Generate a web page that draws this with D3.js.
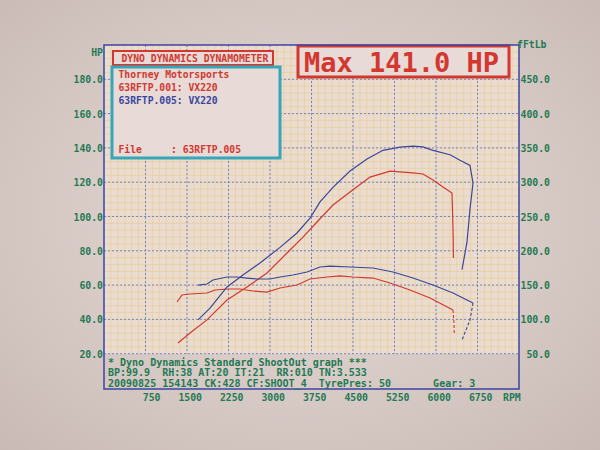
<!DOCTYPE html>
<html>
<head>
<meta charset="utf-8">
<script src="https://cdn.jsdelivr.net/npm/d3@7"></script>
<style>
  body { margin: 0; background: #d8cac6; }
  svg { display: block; }
  text { font-family: "DejaVu Sans Mono", monospace; font-weight: bold; }
</style>
</head>
<body>
<svg width="600" height="450"></svg>
<script>
// run 63RFTP.001 (red) and 63RFTP.005 (blue)
var redPowerRpm = [1337, 1554, 1861, 2223, 2584, 2946, 3307, 3596, 3849, 4138, 4446, 4807, 5169, 5404, 5584, 5765, 5946, 6126, 6289, 6300, 6310, 6315];
var redPowerHp = [26.2, 32.1, 39.7, 51.3, 58.9, 67.1, 78.7, 88.0, 96.8, 106.7, 114.3, 123.0, 126.5, 125.9, 125.4, 124.8, 121.3, 117.2, 113.7, 102.0, 88.0, 75.8];
var redTorqueRpm = [1319, 1410, 1554, 1861, 2006, 2223, 2458, 2693, 2946, 3181, 3488, 3723, 4030, 4265, 4500, 4861, 5169, 5530, 5892, 6307, 6325, 6330];
var redTorqueFtlb = [125.4, 135.6, 137.0, 138.5, 142.9, 144.3, 144.3, 141.4, 139.9, 145.8, 150.1, 158.9, 161.8, 163.3, 161.8, 160.3, 153.1, 142.9, 131.2, 113.7, 94.8, 77.3];
var bluePowerRpm = [1699, 1916, 2223, 2512, 2819, 3181, 3488, 3723, 3904, 4138, 4446, 4753, 5042, 5349, 5584, 5765, 5946, 6253, 6434, 6614, 6669, 6614, 6560, 6470];
var bluePowerHp = [39.7, 46.6, 58.9, 65.9, 72.9, 82.0, 90.4, 99.1, 108.5, 117.0, 126.5, 133.5, 138.6, 140.5, 141.0, 140.6, 138.6, 136.0, 132.8, 129.8, 119.5, 104.3, 85.0, 69.0];
var blueTorqueRpm = [1699, 1861, 1970, 2223, 2404, 2584, 2765, 3000, 3181, 3416, 3669, 3904, 4084, 4446, 4861, 5223, 5584, 5946, 6307, 6669, 6614, 6470];
var blueTorqueFtlb = [150.1, 151.6, 157.4, 161.8, 161.8, 160.3, 158.9, 158.9, 161.8, 164.7, 169.1, 176.4, 177.8, 176.4, 174.9, 169.1, 160.3, 150.1, 138.5, 123.9, 99.1, 70.0];

var rpmTicks = [750, 1500, 2250, 3000, 3750, 4500, 5250, 6000, 6750];
var hpTicks = [20, 40, 60, 80, 100, 120, 140, 160, 180];
var ftlbTicks = [50, 100, 150, 200, 250, 300, 350, 400, 450];

var titleText = "DYNO DYNAMICS DYNAMOMETER";
var maxText = "Max 141.0 HP";
var runLines = ["Thorney Motorsports", "63RFTP.001: VX220", "63RFTP.005: VX220"];
var fileLine = "File     : 63RFTP.005";
var infoLines = [
    "* Dyno Dynamics Standard ShootOut graph ***",
    "BP:99.9  RH:38 AT:20 IT:21  RR:010 TN:3.533",
    "20090825 154143 CK:428 CF:SHOOT_4  TyrePres: 50       Gear: 3"
];

var red = "#d2382f", blue = "#3a469e", green = "#1f7a55", teal = "#36a6b8";

var svg = d3.select("svg");

var x = d3.scaleLinear().domain([0, 7500]).range([104, 519]);
var y = d3.scaleLinear().domain([0, 200]).range([388, 45]);
var yT = d3.scaleLinear().domain([0, 500]).range([388, 45]);

// paper under the camera
var grad = svg.append("defs").append("radialGradient")
    .attr("id", "paper").attr("cx", "50%").attr("cy", "48%").attr("r", "72%");
grad.append("stop").attr("offset", "0%").attr("stop-color", "#e8dcd8");
grad.append("stop").attr("offset", "100%").attr("stop-color", "#c9bab5");
svg.append("rect").attr("width", 600).attr("height", 450).attr("fill", "url(#paper)");

// grid area
svg.append("rect")
    .attr("x", x(0)).attr("y", y(200))
    .attr("width", x(7500) - x(0)).attr("height", y(20) - y(200))
    .attr("fill", "#ebdcd2");

var minor = svg.append("g").attr("stroke", "#e6c776").attr("stroke-width", 0.6).attr("opacity", 0.75);
minor.selectAll("line.v").data(d3.range(125, 7500, 125)).enter().append("line")
    .attr("x1", function(d) { return x(d); }).attr("x2", function(d) { return x(d); })
    .attr("y1", y(200)).attr("y2", y(20));
minor.selectAll("line.h").data(d3.range(24, 200, 4)).enter().append("line")
    .attr("x1", x(0)).attr("x2", x(7500))
    .attr("y1", function(d) { return y(d); }).attr("y2", function(d) { return y(d); });

var major = svg.append("g").attr("stroke", "#7488c4").attr("stroke-width", 1).attr("stroke-dasharray", "2,2");
major.selectAll("line.v").data(rpmTicks).enter().append("line")
    .attr("x1", function(d) { return x(d); }).attr("x2", function(d) { return x(d); })
    .attr("y1", y(200)).attr("y2", y(20));
major.selectAll("line.h").data(hpTicks).enter().append("line")
    .attr("x1", x(0)).attr("x2", x(7500))
    .attr("y1", function(d) { return y(d); }).attr("y2", function(d) { return y(d); });

// curves
var line = d3.line()
    .x(function(d) { return x(d[0]); })
    .y(function(d) { return d[1]; });

function pts(rpm, vals, scale) {
    return rpm.map(function(r, i) { return [r, scale(vals[i])]; });
}

function curve(p, color, tail) {
    var n = p.length;
    var solid = tail ? p.slice(0, n - tail) : p;
    svg.append("path").attr("d", line(solid))
        .attr("fill", "none").attr("stroke", color).attr("stroke-width", 1.2);
    if (tail) {
        svg.append("path").attr("d", line(p.slice(n - tail - 1)))
            .attr("fill", "none").attr("stroke", color).attr("stroke-width", 1.1)
            .attr("stroke-dasharray", "3,2");
    }
}

curve(pts(redPowerRpm, redPowerHp, y), red, 0);
curve(pts(redTorqueRpm, redTorqueFtlb, yT), red, 2);
curve(pts(bluePowerRpm, bluePowerHp, y), blue, 0);
curve(pts(blueTorqueRpm, blueTorqueFtlb, yT), blue, 2);

// header boxes
svg.append("rect").attr("x", 113).attr("y", 51).attr("width", 160).attr("height", 14)
    .attr("fill", "#e7dad7").attr("stroke", red).attr("stroke-width", 2);
svg.append("text").attr("x", 121.5).attr("y", 61.5).attr("font-size", "9.75px")
    .attr("fill", red).text(titleText);

svg.append("rect").attr("x", 112).attr("y", 67).attr("width", 168).attr("height", 91)
    .attr("fill", "#e7dad7").attr("stroke", teal).attr("stroke-width", 3);
svg.selectAll("text.run").data(runLines).enter().append("text")
    .attr("x", 118.5)
    .attr("y", function(d, i) { return 78 + i * 13; })
    .attr("font-size", "9.7px")
    .attr("fill", function(d, i) { return i == 2 ? blue : red; })
    .style("white-space", "pre")
    .text(function(d) { return d; });
svg.append("text").attr("x", 118.5).attr("y", 153).attr("font-size", "9.7px")
    .attr("fill", red).style("white-space", "pre").text(fileLine);

svg.append("rect").attr("x", 298).attr("y", 46).attr("width", 211).attr("height", 31)
    .attr("fill", "#e7dad7").attr("stroke", red).attr("stroke-width", 3);
svg.append("text").attr("x", 304).attr("y", 72).attr("font-size", "27px")
    .attr("fill", red).style("white-space", "pre").text(maxText);

// frame
svg.append("rect")
    .attr("x", x(0)).attr("y", y(200))
    .attr("width", x(7500) - x(0)).attr("height", 389 - y(200))
    .attr("fill", "none").attr("stroke", "#3c44a2").attr("stroke-width", 1.5);

// axis labels
var lbl = svg.append("g").attr("fill", green).attr("font-size", "9.8px");
lbl.selectAll("text.hp").data(hpTicks).enter().append("text")
    .attr("x", 103).attr("y", function(d) { return y(d) + 4; })
    .attr("text-anchor", "end")
    .text(function(d) { return d3.format(".1f")(d); });
lbl.append("text").attr("x", 103).attr("y", 56).attr("text-anchor", "end").text("HP");

lbl.selectAll("text.ft").data(ftlbTicks).enter().append("text")
    .attr("x", 550).attr("y", function(d) { return yT(d) + 4; })
    .attr("text-anchor", "end")
    .text(function(d) { return d3.format(".1f")(d); });
lbl.append("text").attr("x", 517).attr("y", 48).text("fFtLb");

lbl.selectAll("text.rpm").data(rpmTicks).enter().append("text")
    .attr("x", function(d) { return x(d) + 15; }).attr("y", 401)
    .attr("text-anchor", "end")
    .text(function(d) { return d; });
lbl.append("text").attr("x", 503).attr("y", 401).text("RPM");

// run info under the graph
svg.selectAll("text.info").data(infoLines).enter().append("text")
    .attr("x", 108)
    .attr("y", function(d, i) { return 366 + i * 10.3; })
    .attr("font-size", "10px")
    .attr("fill", green)
    .style("white-space", "pre")
    .text(function(d) { return d; });
</script>
</body>
</html>
